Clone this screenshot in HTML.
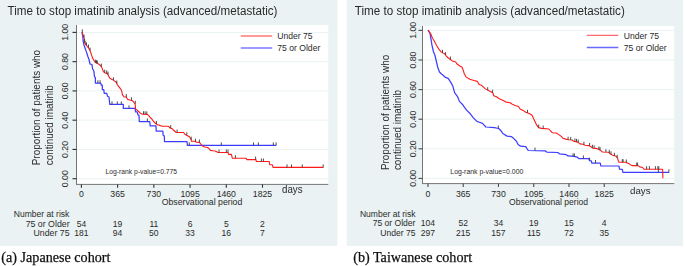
<!DOCTYPE html>
<html><head><meta charset="utf-8"><style>
html,body{margin:0;padding:0;background:#fff;}
body{width:685px;height:266px;overflow:hidden;position:relative;}
svg{position:absolute;left:0;top:0;}
.gl{will-change:transform;}
svg text{font-family:"Liberation Sans",sans-serif;fill:#2a2a2a;}
.cap{position:absolute;font-family:"Liberation Serif",serif;font-size:14.15px;color:#111;white-space:nowrap;line-height:1;-webkit-text-stroke:0.25px #111;}
</style></head><body>
<svg width="685" height="266" viewBox="0 0 685 266">
<rect x="0" y="0" width="337.4" height="245.9" fill="#EAF2F3"/>
<rect x="76.5" y="25" width="251.8" height="159.4" fill="#fff"/>
<line x1="76.5" y1="178.7" x2="328.3" y2="178.7" stroke="#EAF2F3" stroke-width="1"/>
<line x1="76.5" y1="149.44" x2="328.3" y2="149.44" stroke="#EAF2F3" stroke-width="1"/>
<line x1="76.5" y1="120.18" x2="328.3" y2="120.18" stroke="#EAF2F3" stroke-width="1"/>
<line x1="76.5" y1="90.92" x2="328.3" y2="90.92" stroke="#EAF2F3" stroke-width="1"/>
<line x1="76.5" y1="61.66" x2="328.3" y2="61.66" stroke="#EAF2F3" stroke-width="1"/>
<line x1="76.5" y1="32.4" x2="328.3" y2="32.4" stroke="#EAF2F3" stroke-width="1"/>
<line x1="76.5" y1="25" x2="76.5" y2="184.4" stroke="#757575" stroke-width="1"/>
<line x1="76" y1="184.4" x2="328.3" y2="184.4" stroke="#757575" stroke-width="1"/>
<line x1="72.5" y1="178.7" x2="76.5" y2="178.7" stroke="#2e2e2e" stroke-width="1.1"/>
<text transform="translate(67.7 178.7) rotate(-90)" font-size="8.7" text-anchor="middle">0.00</text>
<line x1="72.5" y1="149.44" x2="76.5" y2="149.44" stroke="#2e2e2e" stroke-width="1.1"/>
<text transform="translate(67.7 149.44) rotate(-90)" font-size="8.7" text-anchor="middle">0.20</text>
<line x1="72.5" y1="120.18" x2="76.5" y2="120.18" stroke="#2e2e2e" stroke-width="1.1"/>
<text transform="translate(67.7 120.18) rotate(-90)" font-size="8.7" text-anchor="middle">0.40</text>
<line x1="72.5" y1="90.92" x2="76.5" y2="90.92" stroke="#2e2e2e" stroke-width="1.1"/>
<text transform="translate(67.7 90.92) rotate(-90)" font-size="8.7" text-anchor="middle">0.60</text>
<line x1="72.5" y1="61.66" x2="76.5" y2="61.66" stroke="#2e2e2e" stroke-width="1.1"/>
<text transform="translate(67.7 61.66) rotate(-90)" font-size="8.7" text-anchor="middle">0.80</text>
<line x1="72.5" y1="32.4" x2="76.5" y2="32.4" stroke="#2e2e2e" stroke-width="1.1"/>
<text transform="translate(67.7 32.4) rotate(-90)" font-size="8.7" text-anchor="middle">1.00</text>
<line x1="81.4" y1="184.4" x2="81.4" y2="187.7" stroke="#2e2e2e" stroke-width="1.1"/>
<text transform="translate(81.4 197) scale(1 1.09)" font-size="8.7" text-anchor="middle">0</text>
<line x1="117.62" y1="184.4" x2="117.62" y2="187.7" stroke="#2e2e2e" stroke-width="1.1"/>
<text transform="translate(117.62 197) scale(1 1.09)" font-size="8.7" text-anchor="middle">365</text>
<line x1="153.84" y1="184.4" x2="153.84" y2="187.7" stroke="#2e2e2e" stroke-width="1.1"/>
<text transform="translate(153.84 197) scale(1 1.09)" font-size="8.7" text-anchor="middle">730</text>
<line x1="190.06" y1="184.4" x2="190.06" y2="187.7" stroke="#2e2e2e" stroke-width="1.1"/>
<text transform="translate(190.06 197) scale(1 1.09)" font-size="8.7" text-anchor="middle">1095</text>
<line x1="226.28" y1="184.4" x2="226.28" y2="187.7" stroke="#2e2e2e" stroke-width="1.1"/>
<text transform="translate(226.28 197) scale(1 1.09)" font-size="8.7" text-anchor="middle">1460</text>
<line x1="262.5" y1="184.4" x2="262.5" y2="187.7" stroke="#2e2e2e" stroke-width="1.1"/>
<text transform="translate(262.5 197) scale(1 1.09)" font-size="8.7" text-anchor="middle">1825</text>
<text transform="translate(161.7 205.2) scale(1 1.09)" font-size="8.75">Observational period</text>
<line x1="240.8" y1="36" x2="272.2" y2="36" stroke="#ff9a9a" stroke-width="2"/>
<line x1="240.8" y1="48" x2="272.2" y2="48" stroke="#9a9aff" stroke-width="2"/>
<text transform="translate(277.3 39.1) scale(1 1.09)" font-size="8.6">Under 75</text>
<text transform="translate(277.3 51.1) scale(1 1.09)" font-size="8.6">75 or Older</text>
<text transform="translate(105.6 174) scale(1 1.05)" font-size="6.76">Log-rank p-value=0.775</text>
<path d="M82 32.2 L82.8 36.8 L83.2 41.3 L83.9 44.7 L85 48 L86.2 51.4 L87 53.7 L87.9 56.5 L89 59.5 L90 64 L92 64.6 L92.5 68.5 L93.9 71.3 L94.5 77 L95.4 77.5 L95.4 83.2 L100.8 83.2 L101.2 85 L102.3 85 L102.3 89.5 L103.8 89.5 L104.2 93.3 L106.8 93.3 L107.5 96.3 L109 97 L109.8 104.4 L123.3 104.4 L123.3 108.4 L135 108.4 L135.6 111.8 L137.3 111.8 L137.8 114.6 L139 115.3 L139.3 121.5 L149.7 121.5 L150.2 125.9 L156 125.9 L156.2 131 L162.8 131 L163.2 135.5 L164.3 135.9 L164.5 141.5 L187 141.5 L187.4 145.4 L276.2 145.4" fill="none" stroke="#3d3dff" stroke-width="1.25" stroke-linejoin="round"/>
<path d="M82 32.2 L84 37.9 L84.5 41.3 L85.6 44.7 L87.3 46.3 L89 48.6 L90.1 50.9 L91.3 54.2 L92.4 57.6 L93.5 59.5 L95.1 62.3 L98.5 64 L100.7 65.7 L101.8 67.4 L103.5 71.9 L105.2 73 L107.5 73.6 L108.6 75.9 L109.7 78.1 L112 79.4 L114 80.6 L116.2 82.3 L117.3 84.6 L119 86.8 L120.7 89.1 L121.8 91.3 L122.4 94.7 L124.1 97 L126.3 97 L127.5 99.2 L129.7 100 L132 100.4 L133.7 102 L135.2 104.5 L135.6 109.1 L137.3 110.2 L139 111.9 L140.1 113 L142.3 114.2 L147.4 114.4 L149.1 115.9 L150.2 117.5 L151.9 119.2 L153.6 121.5 L155.3 123.2 L157.5 124.8 L160 125.4 L162.3 126.3 L168.5 126.3 L170.1 128 L172.4 128.8 L173.5 130.2 L176.3 132.5 L183.7 132.5 L184.8 134.2 L187 135.4 L189.5 136.8 L191.2 139.7 L191.5 141.3 L194.6 141.3 L196.3 142.1 L199.7 142.5 L200.8 144.2 L202.5 145.9 L204.7 147 L207.5 147.5 L209.2 148.7 L210.4 150.4 L212.8 150.8 L215.1 151 L217.3 151.9 L217.9 152.5 L228 152.5 L228.6 154.4 L231.4 154.4 L232.3 158.2 L246.2 158.2 L246.8 159.6 L256 159.6 L256.3 161.5 L269.3 161.5 L269.7 164.8 L272.4 164.8 L273 167.4 L323.4 167.4" fill="none" stroke="#ff1a1a" stroke-width="1.1" stroke-linejoin="round"/>
<path d="M82.3 29.4V32.4M84 34.6V37.6M84.6 38.8V41.8M85 40.8V43.8M86.5 42.4V45.4M88.5 44.6V47.6M90.1 47.6V50.6M95.6 59.7V62.7M96.5 60.2V63.2M97.3 60.6V63.6M101.3 63.63V66.63M104.7 69.68V72.68M106.7 70.39V73.39M108 71.65V74.65M113.4 77.24V80.24M116.8 80.55V83.55M126.3 94V97M131.4 97.3V100.3M135.3 100.8V103.8M143.5 111.25V114.25M145.1 111.31V114.31M146.8 111.38V114.38M156.4 121V124M170.7 125.21V128.21M177.1 129.5V132.5M186.8 132.29V135.29M191.2 136.7V139.7M195.5 138.72V141.72M199.4 139.46V142.46M219 149.5V152.5M226.3 149.5V152.5M228 149.5V152.5M235.4 155.2V158.2M255.6 156.6V159.6M261.4 158.5V161.5M263.4 158.5V161.5M287 164.4V167.4M291.5 164.4V167.4M302.3 164.4V167.4M323.2 164.4V167.4" stroke="#3a3a3a" stroke-width="0.9" fill="none"/>
<path d="M97.9 80.2V83.2M100.1 80.2V83.2M112 101.4V104.4M117.3 101.4V104.4M121.3 101.4V104.4M129 105.4V108.4M147.4 118.5V121.5M189.3 142.4V145.4M221.3 142.4V145.4M253.5 142.4V145.4M258.4 142.4V145.4M273.3 142.4V145.4M276.1 142.4V145.4" stroke="#3a3a3a" stroke-width="0.9" fill="none"/>
<text transform="translate(13.8 216.7) scale(1 1.09)" font-size="8.55">Number at risk</text>
<text transform="translate(69.6 226.5) scale(1 1.09)" font-size="8.8" text-anchor="end">75 or Older</text>
<text transform="translate(69.6 235.8) scale(1 1.09)" font-size="8.8" text-anchor="end">Under 75</text>
<text transform="translate(81.4 226.5) scale(1 1.09)" font-size="8.55" text-anchor="middle">54</text>
<text transform="translate(81.4 235.8) scale(1 1.09)" font-size="8.55" text-anchor="middle">181</text>
<text transform="translate(117.62 226.5) scale(1 1.09)" font-size="8.55" text-anchor="middle">19</text>
<text transform="translate(117.62 235.8) scale(1 1.09)" font-size="8.55" text-anchor="middle">94</text>
<text transform="translate(153.84 226.5) scale(1 1.09)" font-size="8.55" text-anchor="middle">11</text>
<text transform="translate(153.84 235.8) scale(1 1.09)" font-size="8.55" text-anchor="middle">50</text>
<text transform="translate(190.06 226.5) scale(1 1.09)" font-size="8.55" text-anchor="middle">6</text>
<text transform="translate(190.06 235.8) scale(1 1.09)" font-size="8.55" text-anchor="middle">33</text>
<text transform="translate(226.28 226.5) scale(1 1.09)" font-size="8.55" text-anchor="middle">5</text>
<text transform="translate(226.28 235.8) scale(1 1.09)" font-size="8.55" text-anchor="middle">16</text>
<text transform="translate(262.5 226.5) scale(1 1.09)" font-size="8.55" text-anchor="middle">2</text>
<text transform="translate(262.5 235.8) scale(1 1.09)" font-size="8.55" text-anchor="middle">7</text>
<rect x="346.7" y="0" width="336.3" height="245.9" fill="#EAF2F3"/>
<rect x="422.5" y="26" width="251.8" height="157.6" fill="#fff"/>
<line x1="422.5" y1="178.4" x2="674.3" y2="178.4" stroke="#EAF2F3" stroke-width="1"/>
<line x1="422.5" y1="148.8" x2="674.3" y2="148.8" stroke="#EAF2F3" stroke-width="1"/>
<line x1="422.5" y1="119.2" x2="674.3" y2="119.2" stroke="#EAF2F3" stroke-width="1"/>
<line x1="422.5" y1="89.6" x2="674.3" y2="89.6" stroke="#EAF2F3" stroke-width="1"/>
<line x1="422.5" y1="60" x2="674.3" y2="60" stroke="#EAF2F3" stroke-width="1"/>
<line x1="422.5" y1="30.4" x2="674.3" y2="30.4" stroke="#EAF2F3" stroke-width="1"/>
<line x1="422.5" y1="26" x2="422.5" y2="183.6" stroke="#757575" stroke-width="1"/>
<line x1="422" y1="183.6" x2="674.3" y2="183.6" stroke="#757575" stroke-width="1"/>
<line x1="418.5" y1="178.4" x2="422.5" y2="178.4" stroke="#4a4a4a" stroke-width="1.1"/>
<text transform="translate(415.6 178.4) rotate(-90)" font-size="8.7" text-anchor="middle">0.00</text>
<line x1="418.5" y1="148.8" x2="422.5" y2="148.8" stroke="#4a4a4a" stroke-width="1.1"/>
<text transform="translate(415.6 148.8) rotate(-90)" font-size="8.7" text-anchor="middle">0.20</text>
<line x1="418.5" y1="119.2" x2="422.5" y2="119.2" stroke="#4a4a4a" stroke-width="1.1"/>
<text transform="translate(415.6 119.2) rotate(-90)" font-size="8.7" text-anchor="middle">0.40</text>
<line x1="418.5" y1="89.6" x2="422.5" y2="89.6" stroke="#4a4a4a" stroke-width="1.1"/>
<text transform="translate(415.6 89.6) rotate(-90)" font-size="8.7" text-anchor="middle">0.60</text>
<line x1="418.5" y1="60" x2="422.5" y2="60" stroke="#4a4a4a" stroke-width="1.1"/>
<text transform="translate(415.6 60) rotate(-90)" font-size="8.7" text-anchor="middle">0.80</text>
<line x1="418.5" y1="30.4" x2="422.5" y2="30.4" stroke="#4a4a4a" stroke-width="1.1"/>
<text transform="translate(415.6 30.4) rotate(-90)" font-size="8.7" text-anchor="middle">1.00</text>
<line x1="427.95" y1="183.6" x2="427.95" y2="186.9" stroke="#4a4a4a" stroke-width="1.1"/>
<text transform="translate(427.95 197) scale(1 1.09)" font-size="8.7" text-anchor="middle">0</text>
<line x1="463.21" y1="183.6" x2="463.21" y2="186.9" stroke="#4a4a4a" stroke-width="1.1"/>
<text transform="translate(463.21 197) scale(1 1.09)" font-size="8.7" text-anchor="middle">365</text>
<line x1="498.47" y1="183.6" x2="498.47" y2="186.9" stroke="#4a4a4a" stroke-width="1.1"/>
<text transform="translate(498.47 197) scale(1 1.09)" font-size="8.7" text-anchor="middle">730</text>
<line x1="533.73" y1="183.6" x2="533.73" y2="186.9" stroke="#4a4a4a" stroke-width="1.1"/>
<text transform="translate(533.73 197) scale(1 1.09)" font-size="8.7" text-anchor="middle">1095</text>
<line x1="568.99" y1="183.6" x2="568.99" y2="186.9" stroke="#4a4a4a" stroke-width="1.1"/>
<text transform="translate(568.99 197) scale(1 1.09)" font-size="8.7" text-anchor="middle">1460</text>
<line x1="604.25" y1="183.6" x2="604.25" y2="186.9" stroke="#4a4a4a" stroke-width="1.1"/>
<text transform="translate(604.25 197) scale(1 1.09)" font-size="8.7" text-anchor="middle">1825</text>
<text transform="translate(509 205.2) scale(1 1.09)" font-size="8.58">Observational period</text>
<line x1="586.8" y1="35.4" x2="618.3" y2="35.4" stroke="#ff6a6a" stroke-width="1.3"/>
<line x1="586.8" y1="47.5" x2="618.3" y2="47.5" stroke="#6a6aff" stroke-width="1.3"/>
<text transform="translate(623.7 38.5) scale(1 1.09)" font-size="8.6">Under 75</text>
<text transform="translate(623.7 50.6) scale(1 1.09)" font-size="8.6">75 or Older</text>
<text transform="translate(450.3 173.7) scale(1 1.13)" font-size="6.9">Log-rank p-value=0.000</text>
<path d="M428.1 30.1 L430 33.5 L431 39.2 L431.9 44.8 L433.4 51.5 L435 55.5 L436.4 61.5 L437.8 67.5 L439.5 72 L441.5 74 L442.5 74.7 L445.3 77.3 L448.2 78.4 L451 82.6 L452.9 86.3 L454.7 92.9 L457.6 96.7 L459.4 101.4 L462.3 104.2 L463.8 106.3 L466.6 110.1 L470.3 113.8 L473.2 117.6 L476.9 121.4 L480 122.5 L482.5 123.4 L485.9 127 L494.4 127.6 L498.6 128.5 L501.2 131 L502.8 133.5 L507.1 136.1 L511.3 136.6 L513.8 138.6 L516.4 141.2 L518.1 144.5 L520.6 146.2 L525.7 146.7 L528.2 150.5 L545.1 150.8 L546.8 152.1 L557.8 152.5 L559.5 153.8 L566.3 154.7 L568 155.9 L573.9 156.4 L577.3 157.2 L578.8 158.5 L588.5 158.5 L589.6 160.6 L591.3 160.8 L591.8 163 L600.3 163 L600.8 165.8 L619 166 L619.5 169.2 L622.3 169.4 L622.9 172.3 L669.1 172.3" fill="none" stroke="#3d3dff" stroke-width="1.25" stroke-linejoin="round"/>
<path d="M428.1 30.1 L430.6 33.5 L432.5 38.2 L434.3 41 L436.2 44.8 L437.1 46.3 L438.8 49.1 L441.1 51.9 L442.8 53 L444.5 53.6 L446.1 55.8 L447.8 57.5 L450.1 59.2 L452.3 60.9 L455.7 62 L457.4 64.3 L459.7 66 L461.9 67.1 L463 69.4 L464.2 73.5 L466 76.9 L469.8 79.2 L474 80.5 L477.4 81.4 L479.1 84.5 L481.9 85.6 L484.7 88.4 L487.5 90.1 L490.9 91.8 L492.9 92.9 L493.7 95.7 L496.5 96.8 L498.8 98.5 L502.7 100.2 L506.1 102.1 L510.1 102.8 L512.3 104.3 L515.1 105.4 L518.5 106.5 L520.1 109 L523 110.4 L525.8 112.2 L529.2 113.5 L532 115.2 L533.1 117.5 L534.6 120.8 L536.5 124.8 L538.7 127.6 L541.5 128.4 L548.9 129 L550.6 131 L552.3 132.7 L556.3 133 L558.5 134.4 L561.3 136.4 L563 138.3 L565.8 139.1 L568.7 139.8 L572 140 L573.7 141.2 L577.7 142.1 L580 143.9 L582.8 144.3 L585.1 145.2 L589 145.6 L591.3 147 L593 148.2 L595.8 148.4 L598 149 L600.8 150.6 L602.5 152 L608.7 152.3 L610.4 154 L612.7 155.2 L616.1 156.3 L617.7 158.5 L618.4 161.3 L619 162.2 L625.7 162.2 L627.4 163 L629.7 164.1 L631.9 165.6 L638.1 165.6 L639.8 166.9 L642.6 167.5 L643.8 169.2 L662.6 169.2 L662.9 178.2" fill="none" stroke="#ff1a1a" stroke-width="1.1" stroke-linejoin="round"/>
<path d="M442.5 49.81V52.81M445.6 52.11V55.11M450.4 56.43V59.43M487.7 87.2V90.2M492.6 89.74V92.74M527.5 109.85V112.85M538.7 124.6V127.6M543.2 125.54V128.54M568.1 136.66V139.66M570.7 136.92V139.92M574.9 138.47V141.47M576.5 138.83V141.83M578.2 139.49V142.49M583.9 141.73V144.73M589.6 142.97V145.97M592.4 144.78V147.78M594.1 145.28V148.28M598.9 146.51V149.51M600 147.14V150.14M605.9 149.16V152.16M609.3 149.9V152.9M611 151.31V154.31M614.4 152.75V155.75M617.2 154.81V157.81M622.3 159.2V162.2M623.1 159.2V162.2M626.3 159.48V162.48M636.7 162.6V165.6M637.6 162.6V165.6M646.6 166.2V169.2M649.4 166.2V169.2M655.4 166.2V169.2M657.9 166.2V169.2M658.8 166.2V169.2" stroke="#3a3a3a" stroke-width="0.9" fill="none"/>
<path d="M498.3 125.44V128.44M535 147.62V150.62M573.1 153.33V156.33M574.4 153.52V156.52M583.4 155.5V158.5M589.6 157.6V160.6M595.5 160V163M658.4 169.3V172.3M668.9 169.3V172.3" stroke="#3a3a3a" stroke-width="0.9" fill="none"/>
<text transform="translate(359.9 216.8) scale(1 1.09)" font-size="8.55">Number at risk</text>
<text transform="translate(415.4 226) scale(1 1.09)" font-size="8.55" text-anchor="end">75 or Older</text>
<text transform="translate(415.4 235.5) scale(1 1.09)" font-size="8.55" text-anchor="end">Under 75</text>
<text transform="translate(427.95 226) scale(1 1.09)" font-size="8.55" text-anchor="middle">104</text>
<text transform="translate(427.95 235.5) scale(1 1.09)" font-size="8.55" text-anchor="middle">297</text>
<text transform="translate(463.21 226) scale(1 1.09)" font-size="8.55" text-anchor="middle">52</text>
<text transform="translate(463.21 235.5) scale(1 1.09)" font-size="8.55" text-anchor="middle">215</text>
<text transform="translate(498.47 226) scale(1 1.09)" font-size="8.55" text-anchor="middle">34</text>
<text transform="translate(498.47 235.5) scale(1 1.09)" font-size="8.55" text-anchor="middle">157</text>
<text transform="translate(533.73 226) scale(1 1.09)" font-size="8.55" text-anchor="middle">19</text>
<text transform="translate(533.73 235.5) scale(1 1.09)" font-size="8.55" text-anchor="middle">115</text>
<text transform="translate(568.99 226) scale(1 1.09)" font-size="8.55" text-anchor="middle">15</text>
<text transform="translate(568.99 235.5) scale(1 1.09)" font-size="8.55" text-anchor="middle">72</text>
<text transform="translate(604.25 226) scale(1 1.09)" font-size="8.55" text-anchor="middle">4</text>
<text transform="translate(604.25 235.5) scale(1 1.09)" font-size="8.55" text-anchor="middle">35</text>
</svg>
<svg class="gl" width="685" height="266" viewBox="0 0 685 266">
<text transform="translate(282 193.1) scale(1 1.04)" font-size="9.75" fill="#111">days</text>
<text transform="translate(39.9 165.3) rotate(-90) scale(1 1.09)" font-size="9.95">Proportion of patients who</text>
<text transform="translate(52.7 165.3) rotate(-90) scale(1 1.09)" font-size="9.95">continued imatinib</text>
<text transform="translate(7.5 14.8) scale(1 1.1)" font-size="11.65" fill="#111">Time to stop imatinib analysis (advanced/metastatic)</text>
<text transform="translate(630 193.6) scale(1 0.98)" font-size="9.75" fill="#111">days</text>
<text transform="translate(388.8 170.1) rotate(-90) scale(1 1.09)" font-size="9.95">Proportion of patients who</text>
<text transform="translate(400.5 170.1) rotate(-90) scale(1 1.09)" font-size="9.95">continued imatinib</text>
<text transform="translate(354.8 15) scale(1 1.1)" font-size="11.65" fill="#111">Time to stop imatinib analysis (advanced/metastatic)</text>
</svg>
<div class="cap" style="left:1.3px;top:250.19px">(a) Japanese cohort</div>
<div class="cap" style="left:353.2px;top:249.79px">(b) Taiwanese cohort</div>
</body></html>
